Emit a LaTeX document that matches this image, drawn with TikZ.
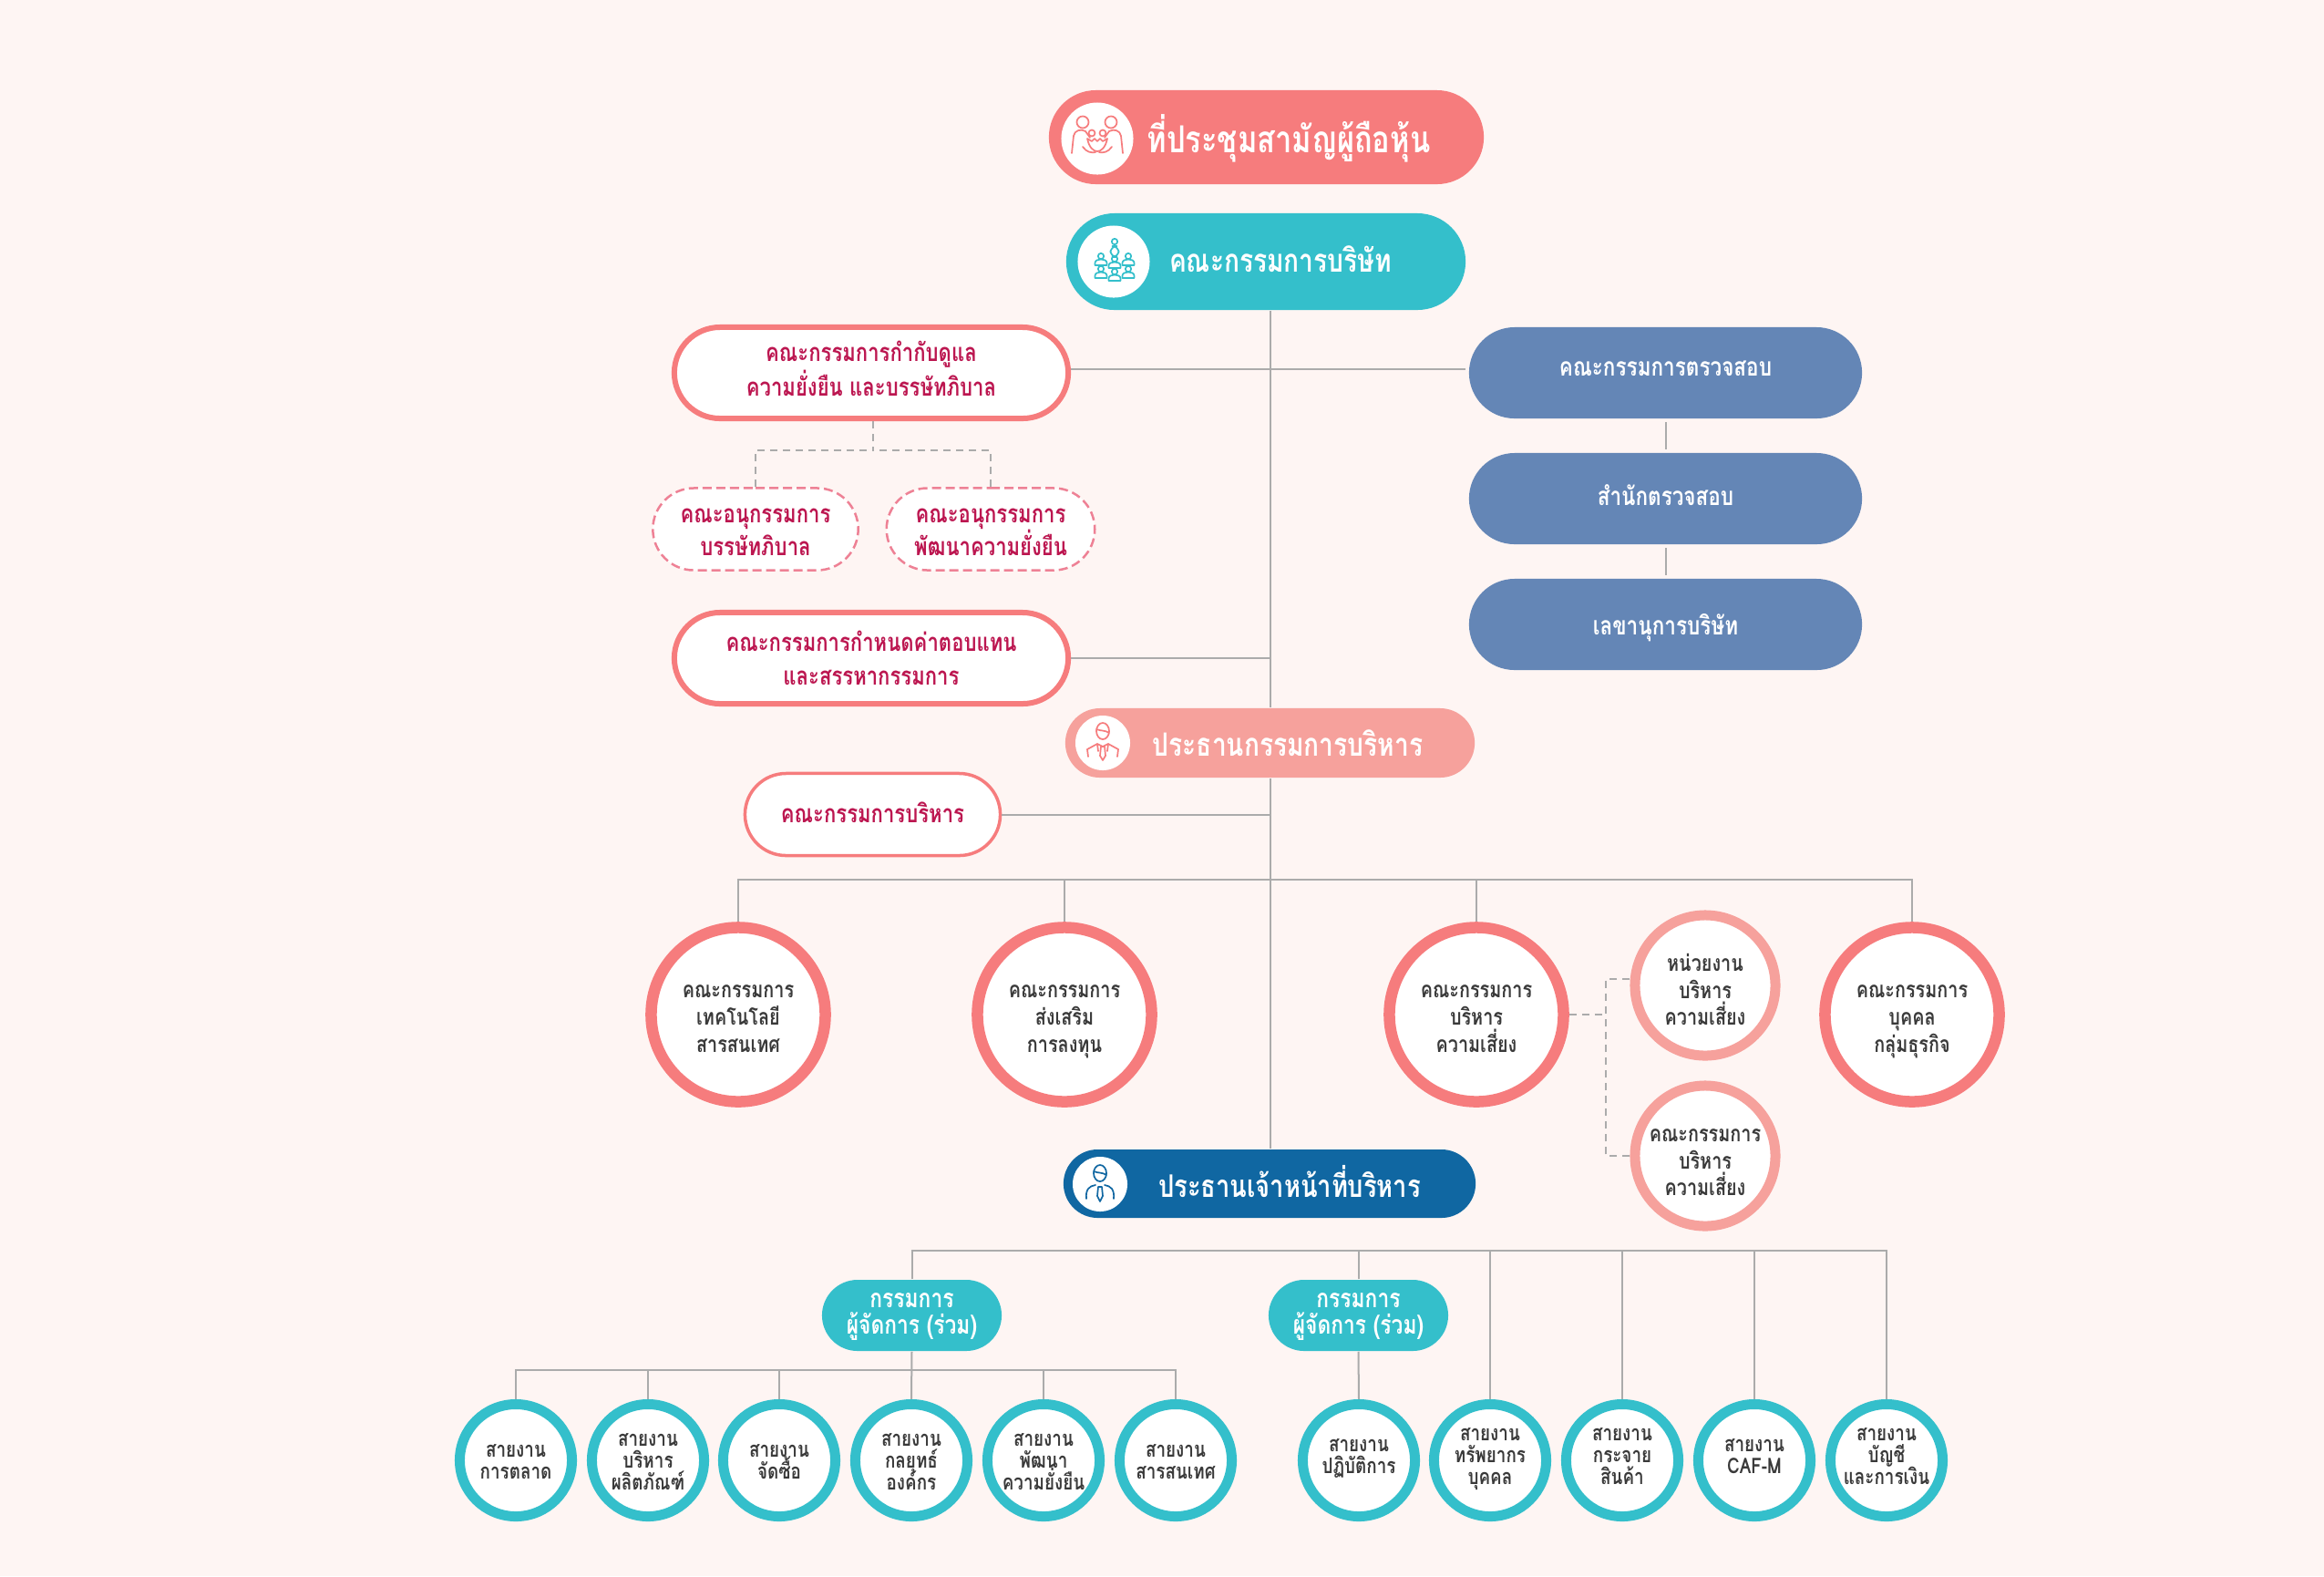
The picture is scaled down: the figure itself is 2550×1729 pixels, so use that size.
\documentclass[tikz,border=0pt]{standalone}
\usepackage{fontspec}
\usetikzlibrary{shapes.misc}
\newfontfamily\thaifont[Script=Thai,FakeStretch=0.8]{Loma}
\lineskiplimit=-20pt
\newcommand{\textdropby}{2pt}
\newcommand{\morelines}{0}
\newcommand{\dropbase}{10pt}
\definecolor{pagebg}{HTML}{FEF5F3}
\definecolor{salmon}{HTML}{F67C7D}
\definecolor{palesalmon}{HTML}{F6A19C}
\definecolor{teal}{HTML}{34BFCB}
\definecolor{navy}{HTML}{1067A2}
\definecolor{steel}{HTML}{6486B6}
\definecolor{crimson}{HTML}{BC1650}
\definecolor{inkgray}{HTML}{3A3A3A}
\definecolor{linkgray}{HTML}{ABABAB}
\definecolor{dashpink}{HTML}{EE8195}
\tikzset{
  textdrop/.code={\renewcommand{\textdropby}{#1}},
  extralines/.code={\renewcommand{\morelines}{#1}},
  droprule/.style={execute at begin node=\rule{0pt}{\dimexpr\dropbase+\morelines\baselineskip\relax},
                 execute at end node=\rule[\dimexpr\textdropby*2-\dropbase\relax]{0pt}{0pt}},
  pill/.style={rounded rectangle, inner sep=0pt, align=center, text=white, droprule},
  headpill/.style={pill, minimum height=1.03cm},
  seatpill/.style={pill, minimum height=0.76cm},
  headtext/.style={text=white, font=\thaifont\bfseries\fontsize{10}{12}\selectfont},
  steelpill/.style={pill, fill=steel, minimum width=4.31cm, minimum height=1cm,
                 font=\thaifont\bfseries\fontsize{8}{10}\selectfont},
  mdpill/.style={pill, fill=teal, minimum width=1.97cm, minimum height=0.78cm, textdrop=1.7pt, extralines=1,
                 /utils/exec=\renewcommand{\dropbase}{7pt},
                 font=\thaifont\bfseries\fontsize{8.1}{8.5}\selectfont},
  compill/.style={pill, draw=salmon, fill=white, text=crimson, line width=0.06cm,
                 minimum width=4.32cm, minimum height=1cm,
                 font=\thaifont\bfseries\fontsize{7.85}{10.7}\selectfont},
  subpill/.style={pill, draw=dashpink, fill=white, text=crimson, line width=0.025cm,
                 dash pattern=on 0.1cm off 0.05cm, textdrop=3pt, extralines=1,
                 minimum width=2.25cm, minimum height=0.9cm,
                 font=\thaifont\bfseries\fontsize{7.85}{10.2}\selectfont},
  bigring/.style={circle, draw=salmon, fill=white, text=inkgray, line width=0.125cm,
                 inner sep=-0.3cm, minimum size=1.91cm, align=center, textdrop=3.2pt, extralines=2, droprule,
                 font=\thaifont\bfseries\fontsize{7.04}{8.5}\selectfont},
  paleRing/.style={bigring, draw=palesalmon, line width=0.11cm, minimum size=1.54cm, textdrop=4pt},
  divring/.style={circle, draw=teal, fill=white, text=inkgray, line width=0.11cm,
                 inner sep=-0.3cm, minimum size=1.23cm, align=center, textdrop=2.3pt, extralines=2, droprule,
                 font=\thaifont\bfseries\fontsize{6.7}{6.8}\selectfont},
  shortdiv/.style={divring, extralines=1},
  badge/.style={circle, fill=white, inner sep=0pt},
  link/.style={draw=linkgray, line width=0.02cm},
  dashlink/.style={link, line width=0.016cm, dash pattern=on 0.08cm off 0.06cm},
  icon/.style={line width=0.017cm, line cap=round, line join=round},
  pics/familyicon/.style={code={
    \draw[icon] (-16,-18) circle[radius=6.5] (15,-18) circle[radius=6.5]
      (-6,-6) circle[radius=3.5] (6,-6) circle[radius=3.5];
    \draw[icon] (-28,16) -- (-26,-3) .. controls (-25,-9) and (-18,-11) .. (-13,-8) -- (-8,-1);
    \draw[icon] (28,16) -- (26,-3) .. controls (25,-9) and (18,-11) .. (13,-8) -- (8,-1);
    \draw[icon] (-11,0) -- (-6,3) -- (-3,0) -- (0,3) -- (3,0) -- (6,3) -- (11,0)
      .. controls (9,10) and (4,14) .. (0,14) .. controls (-4,14) and (-9,10) .. (-11,0);
    \draw[icon] (-16,9) .. controls (-12,15) and (-6,16) .. (-2,15);
    \draw[icon] (16,9) .. controls (12,15) and (6,16) .. (2,15);
  }},
  pics/seaticon/.style={code={
    \draw[icon] (0,0) circle[radius=3.2];
    \draw[icon] (-6.5,10) -- (-6.5,7.5) .. controls (-6.5,4.5) and (-3,3.5) .. (0,3.5)
      .. controls (3,3.5) and (6.5,4.5) .. (6.5,7.5) -- (6.5,10) -- cycle;
  }},
  pics/boardicon/.style={code={
    \draw[icon] (1,-22) circle[radius=3.2];
    \draw[icon, rounded corners=2] (-3.5,-17) rectangle (5.5,-5);
    \pic at (-14,-6) {seaticon};
    \pic at (1,-3) {seaticon};
    \pic at (16,-6) {seaticon};
    \pic at (-14,8) {seaticon};
    \pic at (1,11) {seaticon};
    \pic at (16,8) {seaticon};
  }},
  pics/suiticon/.style={code={
    \draw[icon] (0,-13) ellipse[x radius=7, y radius=9];
    \draw[icon] (-7,-15) .. controls (-2,-13) and (3,-14) .. (7,-11);
    \draw[icon] (-16,15) -- (-17,7) -- (-6,1) -- (0,4) -- (6,1) -- (17,7) -- (16,15);
    \draw[icon] (-2,4) -- (2,4) -- (3,14) -- (0,19) -- (-3,14) -- cycle;
    \draw[icon] (-6,1) -- (-5,9) (6,1) -- (5,9);
  }},
  pics/ceoicon/.style={code={
    \draw[icon] (0,-12) ellipse[x radius=7, y radius=9];
    \draw[icon] (-7,-14) .. controls (-2,-12) and (3,-13) .. (7,-10);
    \draw[icon] (-15,16) .. controls (-16,6) and (-12,2) .. (-5,1);
    \draw[icon] (15,16) .. controls (16,6) and (12,2) .. (5,1);
    \draw[icon] (-2,3) -- (2,3) -- (3,13) -- (0,19) -- (-3,13) -- cycle;
  }},
}
\begin{document}
\begin{tikzpicture}[x=0.01cm,y=-0.01cm]
  \useasboundingbox (0,0) rectangle (2550,1729);
  \fill[pagebg] (0,0) rectangle (2550,1729);
  %% top of the chart
  \node[headpill, fill=salmon, minimum width=4.77cm] (agm) at (1389.5,150.5) {};
  \node[badge, minimum size=0.79cm] (agmbadge) at (1204,152) {};
  \pic[salmon] at (agmbadge) {familyicon};
  \node[headtext, font=\thaifont\bfseries\fontsize{11.6}{14}\selectfont] (agmtext) at (1414,152) {ที่ประชุมสามัญผู้ถือหุ้น};
  \node[headpill, fill=teal, minimum width=4.38cm, minimum height=1.06cm] (board) at (1389,287) {};
  \node[badge, minimum size=0.79cm] (boardbadge) at (1222,287) {};
  \pic[teal] at (boardbadge) {boardicon};
  \node[headtext] (boardtext) at (1405,284) {คณะกรรมการบริษัท};
  %% committees left of the trunk
  \node[compill, textdrop=1.8pt, extralines=1] (govcom) at (956,409) {คณะกรรมการกำกับดูแล\\ความยั่งยืน และบรรษัทภิบาล};
  \node[subpill] (subgov) at (829,580.5) {คณะอนุกรรมการ\\บรรษัทภิบาล};
  \node[subpill] (subsus) at (1087,580.5) {คณะอนุกรรมการ\\พัฒนาความยั่งยืน};
  \node[compill, textdrop=3.1pt, extralines=1] (remcom) at (956,722) {คณะกรรมการกำหนดค่าตอบแทน\\และสรรหากรรมการ};
  \node[compill, textdrop=2.6pt, line width=0.035cm, minimum width=2.8cm, minimum height=0.9cm] (execcom) at (957.5,893.5) {คณะกรรมการบริหาร};
  %% audit column
  \node[steelpill, textdrop=0.9pt] (audit) at (1827.5,409) {คณะกรรมการตรวจสอบ};
  \node[steelpill, textdrop=2pt] (auditoff) at (1827.5,547) {สำนักตรวจสอบ};
  \node[steelpill, textdrop=3.2pt] (secretary) at (1827.5,685) {เลขานุการบริษัท};
  %% chairman
  \node[seatpill, fill=palesalmon, minimum width=4.49cm] (chair) at (1393.5,815) {};
  \node[badge, minimum size=0.6cm] (chairbadge) at (1210,815) {};
  \pic[salmon] at (chairbadge) {suiticon};
  \node[headtext] (chairtext) at (1413,815) {ประธานกรรมการบริหาร};
  %% board level rings
  \node[bigring] (techcom) at (810,1113) {คณะกรรมการ\\เทคโนโลยี\\สารสนเทศ};
  \node[bigring] (investcom) at (1168,1113) {คณะกรรมการ\\ส่งเสริม\\การลงทุน};
  \node[bigring] (riskcom) at (1620,1113) {คณะกรรมการ\\บริหาร\\ความเสี่ยง};
  \node[bigring] (hrcom) at (2098,1113) {คณะกรรมการ\\บุคคล\\กลุ่มธุรกิจ};
  \node[paleRing] (riskunit) at (1871,1081) {หน่วยงาน\\บริหาร\\ความเสี่ยง};
  \node[paleRing] (riskexec) at (1871,1268) {คณะกรรมการ\\บริหาร\\ความเสี่ยง};
  %% ceo
  \node[seatpill, fill=navy, minimum width=4.52cm, minimum height=0.75cm] (ceo) at (1393,1298.5) {};
  \node[badge, minimum size=0.6cm] (ceobadge) at (1207,1299) {};
  \pic[navy] at (ceobadge) {ceoicon};
  \node[headtext, font=\thaifont\bfseries\fontsize{9.7}{12}\selectfont] (ceotext) at (1415,1296) {ประธานเจ้าหน้าที่บริหาร};
  %% managing directors
  \node[mdpill] (mdleft) at (1000.5,1443) {กรรมการ\\ผู้จัดการ (ร่วม)};
  \node[mdpill] (mdright) at (1490.5,1443) {กรรมการ\\ผู้จัดการ (ร่วม)};
  %% divisions
  \node[shortdiv] (divmarket) at (566,1602) {สายงาน\\การตลาด};
  \node[divring] (divproduct) at (711,1602) {สายงาน\\บริหาร\\ผลิตภัณฑ์};
  \node[shortdiv] (divpurchase) at (855,1602) {สายงาน\\จัดซื้อ};
  \node[divring] (divstrategy) at (1000,1602) {สายงาน\\กลยุทธ์\\องค์กร};
  \node[divring] (divgrowth) at (1145,1602) {สายงาน\\พัฒนา\\ความยั่งยืน};
  \node[shortdiv] (divit) at (1290,1602) {สายงาน\\สารสนเทศ};
  \node[shortdiv, textdrop=0.8pt] (divops) at (1491,1602) {สายงาน\\ปฏิบัติการ};
  \node[divring, textdrop=0.8pt] (divpeople) at (1635,1602) {สายงาน\\ทรัพยากร\\บุคคล};
  \node[divring, textdrop=0.8pt] (divlogistic) at (1780,1602) {สายงาน\\กระจาย\\สินค้า};
  \node[shortdiv, textdrop=0.8pt] (divcaf) at (1925,1602) {สายงาน\\CAF-M};
  \node[divring, textdrop=0.8pt] (divfinance) at (2070,1602) {สายงาน\\บัญชี\\และการเงิน};
  %% junctions
  \coordinate (audittap) at (1608,405);
  \coordinate (boardrail) at (1393,965);
  \coordinate (mdrail) at (1393,1372);
  \coordinate (leftrail) at (1000,1503);
  %% trunk and side links
  \draw[link] (board.south -| chair.north) -- (chair.north);
  \draw[link] (chair.south) -- (ceo.north -| chair.south);
  \draw[link] (govcom.east |- audittap) -- (audittap);
  \draw[link] (remcom.east) -- (remcom.east -| chair.north);
  \draw[link] (execcom.east) -- (execcom.east -| chair.north);
  \draw[link, shorten <=1pt, shorten >=1pt] (audit.south) -- (auditoff.north);
  \draw[link, shorten <=1pt, shorten >=1pt] (auditoff.south) -- (secretary.north);
  %% board level rail
  \draw[link] (techcom.north) |- (boardrail);
  \draw[link] (hrcom.north) |- (boardrail);
  \draw[link] (investcom.north) -- (investcom.north |- boardrail);
  \draw[link] (riskcom.north) -- (riskcom.north |- boardrail);
  %% rail below the ceo
  \draw[link] (mdleft.north) |- (mdrail);
  \draw[link] (divfinance.north) |- (mdrail);
  \draw[link] (mdright.north) -- (mdright.north |- mdrail);
  \draw[link] (divpeople.north) -- (divpeople.north |- mdrail);
  \draw[link] (divlogistic.north) -- (divlogistic.north |- mdrail);
  \draw[link] (divcaf.north) -- (divcaf.north |- mdrail);
  \draw[link] (mdright.south) -- (divops.north);
  %% rail below the left director
  \draw[link] (mdleft.south) -- (divstrategy.north);
  \draw[link] (divmarket.north) |- (leftrail);
  \draw[link] (divit.north) |- (leftrail);
  \draw[link] (divproduct.north) -- (divproduct.north |- leftrail);
  \draw[link] (divpurchase.north) -- (divpurchase.north |- leftrail);
  \draw[link] (divgrowth.north) -- (divgrowth.north |- leftrail);
  %% dashed links
  \coordinate (subfork) at (958,494);
  \coordinate (riskfork) at (1762,1113);
  \draw[dashlink] (govcom.south -| subfork) -- (subfork);
  \draw[dashlink] (subgov.north) |- (subfork);
  \draw[dashlink] (subsus.north) |- (subfork);
  \draw[dashlink] (riskcom.east) -- (riskfork);
  \draw[dashlink] (riskunit.west |- 0,1074) -| (riskfork);
  \draw[dashlink] (riskexec.west) -| (riskfork);
\end{tikzpicture}
\end{document}
